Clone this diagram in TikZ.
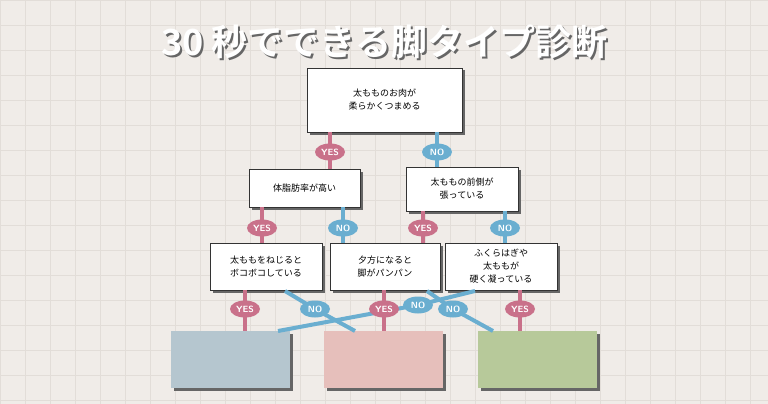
\documentclass[tikz,border=0pt]{standalone}
\usepackage{fontspec}
\newfontfamily\jp{Noto Sans CJK JP}
\newfontfamily\jpb{Noto Sans CJK JP Bold}
\usetikzlibrary{shadows,shapes.geometric}
\definecolor{bg}{HTML}{F0ECE8}
\definecolor{gridc}{HTML}{E2DDD8}
\definecolor{yesc}{HTML}{C9718A}
\definecolor{noc}{HTML}{6AAED0}
\definecolor{bluebox}{HTML}{B5C6CF}
\definecolor{pinkbox}{HTML}{E6BFBB}
\definecolor{greenbox}{HTML}{B7C99A}
\tikzset{
 q/.style={draw=black!80,line width=0.8pt,fill=white,align=center,font=\jp\fontsize{9}{13}\selectfont,
   drop shadow={shadow xshift=2.5pt,shadow yshift=-2.5pt,fill=black!60,opacity=1},inner sep=0pt},
 res/.style={fill=#1,minimum width=119pt,minimum height=57pt,inner sep=0pt,
   drop shadow={shadow xshift=2.5pt,shadow yshift=-2.5pt,fill=black!60,opacity=1}},
 yl/.style={line width=4pt,yesc},
 nl/.style={line width=4pt,noc},
 yb/.style={ellipse,fill=yesc,text=white,font=\sffamily\bfseries\fontsize{9}{9}\selectfont,inner xsep=1.5pt,inner ysep=1.5pt,minimum width=30pt,minimum height=17pt},
 nb/.style={yb,fill=noc},
}
\begin{document}
\begin{tikzpicture}[x=1pt,y=-1pt]
\fill[bg] (0,0) rectangle (768,404);
\useasboundingbox (0,0) rectangle (768,404);
\foreach \i in {0,25,...,775} {\draw[gridc,line width=0.5pt] (\i,0) -- (\i,404);}
\foreach \j in {0,25,...,400} {\draw[gridc,line width=0.5pt] (0,\j) -- (768,\j);}
\node[text=black!60,font=\jpb\fontsize{36}{36}\selectfont] at (386,44) {30 秒でできる脚タイプ診断};
\node[text=white,font=\jpb\fontsize{36}{36}\selectfont] (title) at (384,42) {30 秒でできる脚タイプ診断};
% badge anchors
\coordinate (b1) at (330,152);
\coordinate (b2) at (437,152);
\coordinate (b3) at (262,228);
\coordinate (b4) at (343,228);
\coordinate (b5) at (423,228);
\coordinate (b6) at (505,228);
\coordinate (b7) at (245,309);
\coordinate (b8) at (315,309);
\coordinate (b9) at (384,309);
\coordinate (b10) at (418,305);
\coordinate (b11) at (453,309);
\coordinate (b12) at (520,309);
% boxes
\node[q,minimum width=155pt,minimum height=64pt] (root) at (384.5,100) {太もものお肉が\\柔らかくつまめる};
\node[q,minimum width=111pt,minimum height=38pt] (fat) at (304.5,188) {体脂肪率が高い};
\node[q,minimum width=112pt,minimum height=44pt] (front) at (462,189) {太ももの前側が\\張っている};
\node[q,minimum width=112pt,minimum height=47pt] (tw) at (266,266.5) {太ももをねじると\\ボコボコしている};
\node[q,minimum width=110pt,minimum height=47pt] (ev) at (385,266.5) {夕方になると\\脚がパンパン};
\node[q,minimum width=112pt,minimum height=47pt] (hard) at (501,266.5) {ふくらはぎや\\太ももが\\硬く凝っている};
\node[res=bluebox] (rb) at (230.5,359.5) {};
\node[res=pinkbox] (rp) at (383.5,359.5) {};
\node[res=greenbox] (rg) at (537.5,359.5) {};
% connectors
\draw[yl] (root.south -| b1) -- (b1) -- (fat.north -| b1);
\draw[nl] (root.south -| b2) -- (b2) -- (front.north -| b2);
\draw[yl] (fat.south -| b3) -- (b3) -- (tw.north -| b3);
\draw[nl] (fat.south -| b4) -- (b4) -- (ev.north -| b4);
\draw[yl] (front.south -| b5) -- (b5) -- (ev.north -| b5);
\draw[nl] (front.south -| b6) -- (b6) -- (hard.north -| b6);
\draw[yl] (tw.south -| b7) -- (b7) -- (rb.north -| b7);
\coordinate (h1) at (475,291);
\coordinate (bb) at (278,331);
\draw[nl] (h1) -- (b10) -- (bb);
\coordinate (t1) at (285,291);
\coordinate (pp) at (355,331);
\draw[nl] (t1) -- (b8) -- (pp);
\coordinate (e1) at (427,291);
\coordinate (gg) at (493,331);
\draw[nl] (e1) -- (b11) -- (gg);
\draw[yl] (ev.south -| b9) -- (b9) -- (rp.north -| b9);
\draw[yl] (hard.south -| b12) -- (b12) -- (rg.north -| b12);
\foreach \b/\t/\s in {b1/YES/yb,b2/NO/nb,b3/YES/yb,b4/NO/nb,b5/YES/yb,b6/NO/nb,b7/YES/yb,b8/NO/nb,b9/YES/yb,b10/NO/nb,b11/NO/nb,b12/YES/yb}
  \node[\s] (n\b) at (\b) {\t};
\end{tikzpicture}
\end{document}
